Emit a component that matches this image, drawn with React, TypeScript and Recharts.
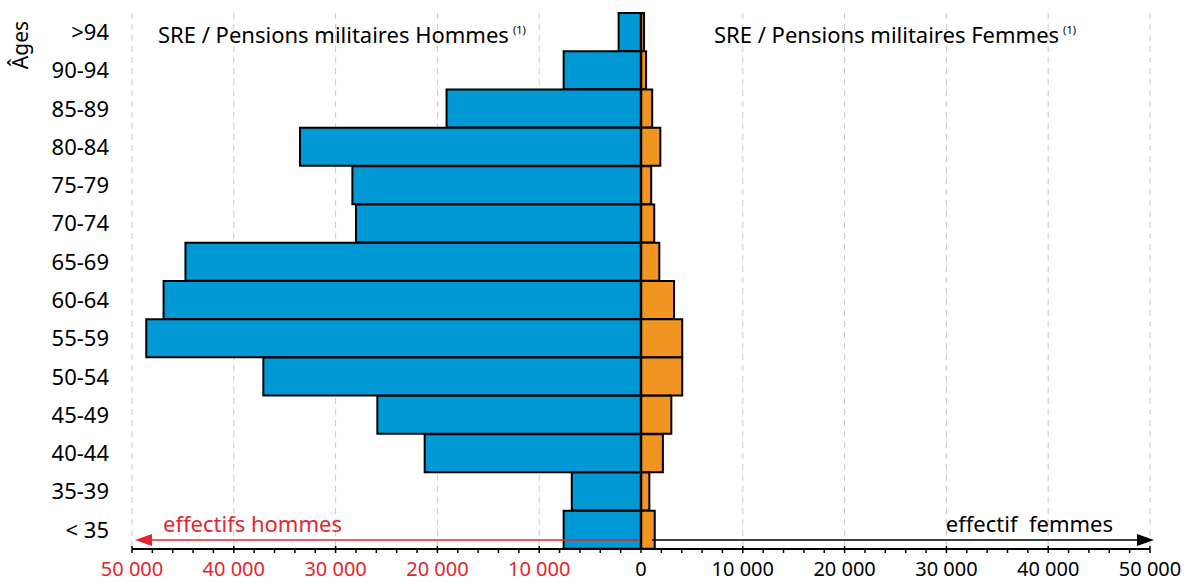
import { Bar, BarChart, CartesianGrid, ReferenceLine, XAxis, YAxis } from "recharts";

const ageGroups = [">94", "90-94", "85-89", "80-84", "75-79", "70-74", "65-69", "60-64", "55-59", "50-54", "45-49", "40-44", "35-39", "< 35"];
const hommes = [2200, 7600, 19100, 33500, 28350, 28000, 44750, 46900, 48600, 37100, 25900, 21250, 6800, 7600];
const femmes = [300, 500, 1100, 1900, 1000, 1300, 1800, 3250, 4050, 4050, 2980, 2150, 820, 1350];

const majorTicks = [-50000, -40000, -30000, -20000, -10000, 0, 10000, 20000, 30000, 40000, 50000];
const minorStep = 2000;
const allTicks: number[] = [];
for (let v = majorTicks[0]; v <= majorTicks[majorTicks.length - 1]; v += minorStep) allTicks.push(v);

const BLUE = "#0099d6";
const ORANGE = "#f29422";
const RED = "#e3262d";
const FONT = "'Noto Sans', sans-serif";

const data = ageGroups.map((age, i) => ({ age, hommes: -hommes[i], femmes: femmes[i] }));

function formatTick(v: number) {
  const abs = Math.abs(v);
  if (abs === 0) return "0";
  return `${Math.floor(abs / 1000)} 000`;
}

function XTick(props: any) {
  const { x, y, payload } = props;
  const value = payload.value as number;
  const major = value % 10000 === 0;
  return (
    <g>
      <line x1={x} x2={x} y1={major ? y - 3 : y} y2={y + 4} stroke="#000" strokeWidth={1.5} />
      {major ? (
        <text x={x} y={y + 27} textAnchor="middle" fontSize={20} fontFamily={FONT} fill={value < 0 ? RED : "#000"}>
          {formatTick(value)}
        </text>
      ) : null}
    </g>
  );
}

export default function App() {
  return (
    <div style={{ position: "absolute", left: 0, top: 0, width: 1192, height: 583, background: "#fff", fontFamily: FONT }}>
      <BarChart
        width={1192}
        height={583}
        data={data}
        layout="vertical"
        stackOffset="sign"
        barCategoryGap={0}
        margin={{ top: 13, right: 42, bottom: 0, left: 32 }}
      >
        <CartesianGrid horizontal={false} verticalValues={majorTicks} stroke="#c8c8c8" strokeDasharray="6 5" />
        <XAxis
          type="number"
          domain={[majorTicks[0], majorTicks[majorTicks.length - 1]]}
          ticks={allTicks}
          interval={0}
          tick={<XTick />}
          tickLine={false}
          tickSize={0}
          tickMargin={0}
          axisLine={{ stroke: "#000", strokeWidth: 2 }}
          height={34}
          allowDataOverflow
        />
        <YAxis
          type="category"
          dataKey="age"
          width={100}
          tickSize={0}
          tickMargin={23}
          axisLine={false}
          tickLine={false}
          interval={0}
          tick={{ fontSize: 22, fill: "#000", fontFamily: FONT }}
        />
        <Bar dataKey="hommes" stackId="a" fill={BLUE} stroke="#000" strokeWidth={2} isAnimationActive={false} />
        <Bar dataKey="femmes" stackId="a" fill={ORANGE} stroke="#000" strokeWidth={2} isAnimationActive={false} />
        <ReferenceLine x={0} stroke="#000" strokeWidth={2.5} />
      </BarChart>
      <svg width={1192} height={583} style={{ position: "absolute", left: 0, top: 0, pointerEvents: "none" }} fontFamily={FONT}>
        <text transform="translate(28,45) rotate(-90)" textAnchor="middle" fontSize={21} fill="#000">Âges</text>
        <text x={158} y={43} fontSize={22} fill="#000">
          SRE / Pensions militaires Hommes
          <tspan fontSize={11} dx={4} dy={-9}>(1)</tspan>
        </text>
        <text x={714} y={43} fontSize={22} fill="#000">
          SRE / Pensions militaires Femmes
          <tspan fontSize={11} dx={4} dy={-9}>(1)</tspan>
        </text>
        <line x1={640} x2={150} y1={540} y2={540} stroke={RED} strokeWidth={1.5} />
        <polygon points="135,540 152,534 152,546" fill={RED} />
        <text x={163} y={532} fontSize={22} fill={RED}>effectifs hommes</text>
        <line x1={652} x2={1140} y1={540} y2={540} stroke="#000" strokeWidth={1.5} />
        <polygon points="1154,540 1137,534 1137,546" fill="#000" />
        <text x={1113} y={532} fontSize={22} fill="#000" textAnchor="end" style={{ whiteSpace: "pre" }}>effectif  femmes</text>
      </svg>
    </div>
  );
}
